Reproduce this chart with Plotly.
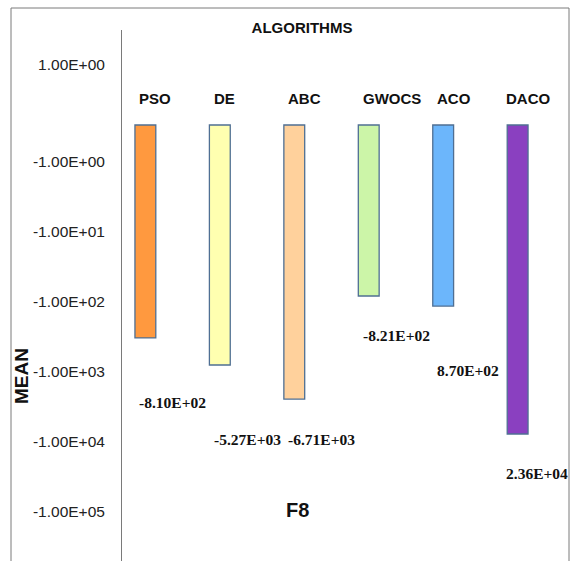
import math
import plotly.graph_objects as go

# ---- data -------------------------------------------------------------
algorithms = ["PSO", "DE", "ABC", "GWOCS", "ACO", "DACO"]
bar_means = [-334, -813, -2490, -84, -117, -7870]
value_labels = ["-8.10E+02", "-5.27E+03", "-6.71E+03", "-8.21E+02", "8.70E+02", "2.36E+04"]
tick_mags = [0.042, 1, 10, 100, 1000, 10000, 100000]
tick_text = ["1.00E+00", "-1.00E+00", "-1.00E+01", "-1.00E+02",
             "-1.00E+03", "-1.00E+04", "-1.00E+05"]
function_name = "F8"

# ---- styling ----------------------------------------------------------
bar_colors = ["#FF993F", "#FFFFB0", "#FFD19C", "#CCF5A8", "#6CB6FB", "#8A40C0"]
label_drop = [65, 74, 40, 39, 64, 39]      # px below each bar end
label_nudge = [-8, -8, -8, -8, -8, -14]    # px left of each bar centre
ZERO = 0.303                               # magnitude at the zero line
W, H = 570, 561
ML, MR, MT, MB = 122, 1, 30, 0
SANS = "Liberation Sans, Arial, sans-serif"
SERIF = "Liberation Serif, Times New Roman, serif"

pw = W - ML - MR
ph = H - MT - MB
def px_x(px):
    return (px - ML) / pw
def px_y(py):
    return (H - MB - py) / ph

mags = [abs(v) for v in bar_means]

fig = go.Figure()
fig.add_trace(go.Bar(
    x=algorithms,
    y=[m - ZERO for m in mags],
    base=ZERO,
    width=0.28,
    marker=dict(color=bar_colors, line=dict(color="#4F6F93", width=1.3)),
    hoverinfo="skip",
))

annotations = []
for name, nudge in zip(algorithms, label_nudge):
    annotations.append(dict(
        x=name, xref="x", xanchor="left", xshift=nudge,
        y=px_y(98), yref="paper", yanchor="middle",
        text=name, showarrow=False,
        font=dict(family=SANS, size=15, color="#111111", weight="bold"),
    ))

for name, m, txt, drop, nudge in zip(algorithms, mags, value_labels,
                                     label_drop, label_nudge):
    annotations.append(dict(
        x=name, xref="x", xanchor="left", xshift=nudge,
        y=math.log10(m), yref="y", yanchor="middle", yshift=-drop,
        text=txt, showarrow=False,
        font=dict(family=SERIF, size=15.5, color="#111111", weight="bold"),
    ))

annotations.append(dict(
    x=px_x(297), xref="paper", y=px_y(510), yref="paper",
    xanchor="center", yanchor="middle", text=function_name, showarrow=False,
    font=dict(family=SANS, size=20, color="#111111", weight="bold"),
))
annotations.append(dict(
    x=px_x(22), xref="paper", y=px_y(376), yref="paper",
    xanchor="center", yanchor="middle", text="MEAN", textangle=-90,
    showarrow=False,
    font=dict(family=SANS, size=19, color="#111111", weight="bold"),
))

shapes = [
    # zero line across the whole frame
    dict(type="line", xref="paper", yref="y",
         x0=px_x(11), x1=1, y0=math.log10(ZERO), y1=math.log10(ZERO),
         line=dict(color="#606060", width=1)),
    # outer frame
    dict(type="line", xref="paper", yref="paper",
         x0=px_x(11), x1=px_x(569), y0=px_y(8), y1=px_y(8),
         line=dict(color="#7a7a7a", width=1)),
    dict(type="line", xref="paper", yref="paper",
         x0=px_x(11), x1=px_x(11), y0=px_y(8), y1=px_y(565),
         line=dict(color="#7a7a7a", width=1)),
    dict(type="line", xref="paper", yref="paper",
         x0=px_x(569), x1=px_x(569), y0=px_y(8), y1=px_y(565),
         line=dict(color="#7a7a7a", width=1)),
]

fig.update_layout(
    width=W, height=H,
    margin=dict(l=ML, r=MR, t=MT, b=MB, pad=0),
    paper_bgcolor="white", plot_bgcolor="white",
    showlegend=False,
    title=dict(text="ALGORITHMS", x=302 / W, xanchor="center",
               y=1 - 28 / H, yanchor="middle",
               font=dict(family=SANS, size=15, color="#111111", weight="bold")),
    annotations=annotations,
    shapes=shapes,
    xaxis=dict(type="category", range=[-0.314, 5.69], showticklabels=False,
               showgrid=False, zeroline=False, showline=False, ticks=""),
    yaxis=dict(type="log", range=[5.71, -1.876], autorange=False,
               tickvals=tick_mags, ticktext=tick_text,
               showgrid=False, zeroline=False, ticks="",
               showline=True, linecolor="#7a7a7a", linewidth=1,
               ticklabelstandoff=13,
               tickfont=dict(family=SANS, size=15.5, color="#222222")),
)

fig.write_html("out.html")
